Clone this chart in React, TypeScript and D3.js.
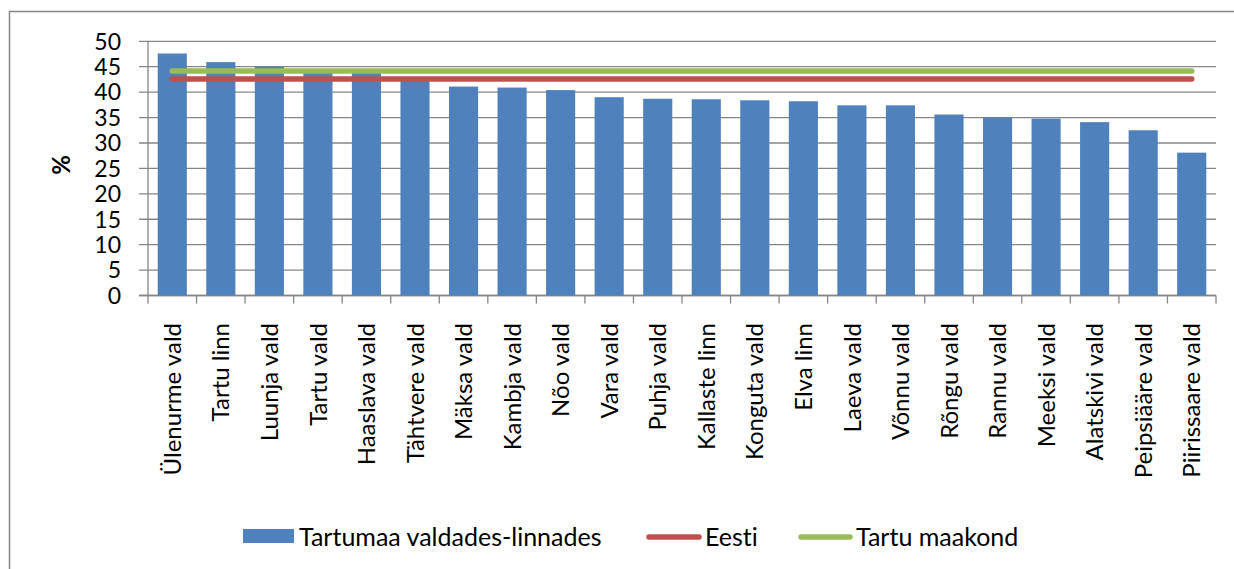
import React from "react";
import * as d3 from "d3";

const categories = [
  "Ülenurme vald", "Tartu linn", "Luunja vald", "Tartu vald", "Haaslava vald",
  "Tähtvere vald", "Mäksa vald", "Kambja vald", "Nõo vald", "Vara vald",
  "Puhja vald", "Kallaste linn", "Konguta vald", "Elva linn", "Laeva vald",
  "Võnnu vald", "Rõngu vald", "Rannu vald", "Meeksi vald", "Alatskivi vald",
  "Peipsiääre vald", "Piirissaare vald",
];
const values = [
  47.6, 45.9, 45.0, 44.3, 43.9, 42.5, 41.1, 40.9, 40.4, 39.0,
  38.7, 38.6, 38.4, 38.2, 37.4, 37.4, 35.6, 35.0, 34.8, 34.1,
  32.5, 28.1,
];
const eestiValue = 42.6;
const maakondValue = 44.15;
const yTicks = [0, 5, 10, 15, 20, 25, 30, 35, 40, 45, 50];
const seriesNames = ["Tartumaa valdades-linnades", "Eesti", "Tartu maakond"];

const W = 1234;
const H = 569;
const FONT = "Lato, 'Open Sans', sans-serif";
const BLUE = "#4F81BD";
const RED = "#C0504D";
const GREEN = "#9BBB59";
const GRID = "#868686";

export default function App() {
  const left = 148;
  const right = 1216;
  const top = 41.3;
  const bottom = 295.5;

  const x = d3.scaleBand<string>().domain(categories).range([left, right]).paddingInner(0.4).paddingOuter(0.2);
  const step = x.step();
  const y = d3.scaleLinear().domain([0, 50]).range([bottom, top]);

  const firstC = x(categories[0])! + x.bandwidth() / 2;
  const lastC = x(categories[categories.length - 1])! + x.bandwidth() / 2;
  const lineGen = d3.line<[number, number]>().x((d) => d[0]).y((d) => d[1]);

  const boundaries = d3.range(categories.length + 1).map((i) => left + i * step);

  return (
    <div style={{ position: "absolute", left: 0, top: 0 }}>
      <svg
        width={W}
        height={H}
        style={{ display: "block", fontFamily: FONT, fontVariantLigatures: "none", fontFeatureSettings: '"liga" 0, "clig" 0' }}
      >
        <rect x={0} y={0} width={W} height={H} fill="#fff" />
        {/* outer border */}
        <path d={`M9.5,${H + 5} V11.5 H${W + 5}`} fill="none" stroke={GRID} strokeWidth={1.5} />

        {/* gridlines */}
        {yTicks.map((t) => (
          <line key={"g" + t} x1={139} x2={right} y1={y(t)} y2={y(t)} stroke={GRID} strokeWidth={1.3} />
        ))}
        {/* y axis */}
        <line x1={left} x2={left} y1={top} y2={bottom + 0.5} stroke={GRID} strokeWidth={1.3} />
        {/* x axis */}
        <line x1={139} x2={right} y1={bottom} y2={bottom} stroke={GRID} strokeWidth={1.3} />
        {boundaries.map((bx, i) => (
          <line key={"bt" + i} x1={bx} x2={bx} y1={bottom} y2={bottom + 8} stroke={GRID} strokeWidth={1.3} />
        ))}

        {/* bars */}
        {categories.map((c, i) => (
          <rect
            key={c}
            x={x(c)!}
            y={y(values[i])}
            width={x.bandwidth()}
            height={y(0) - y(values[i])}
            fill={BLUE}
          />
        ))}

        {/* lines */}
        <path
          d={lineGen([[firstC, y(maakondValue)], [lastC, y(maakondValue)]])!}
          stroke={GREEN}
          strokeWidth={5.5}
          strokeLinecap="round"
          fill="none"
        />
        <path
          d={lineGen([[firstC, y(eestiValue)], [lastC, y(eestiValue)]])!}
          stroke={RED}
          strokeWidth={5.5}
          strokeLinecap="round"
          fill="none"
        />

        {/* y tick labels */}
        {yTicks.map((t) => (
          <text key={"yl" + t} x={121} y={y(t)} dy="0.36em" textAnchor="end" fontSize={23} fill="#000">
            {t}
          </text>
        ))}
        {/* y axis title */}
        <text
          transform={`translate(62,165) rotate(-90)`}
          textAnchor="middle"
          dy="0.35em"
          fontSize={24}
          fontWeight="bold"
          fill="#000"
        >
          %
        </text>

        {/* category labels */}
        {categories.map((c) => (
          <text
            key={"cl" + c}
            transform={`translate(${x(c)! + x.bandwidth() / 2},323) rotate(-90)`}
            textAnchor="end"
            dy="0.36em"
            fontSize={24}
            fill="#000"
          >
            {c}
          </text>
        ))}

        {/* legend */}
        <rect x={243} y={529} width={51} height={14} fill={BLUE} />
        <text x={299} y={537} dy="0.36em" fontSize={25} fill="#000">{seriesNames[0]}</text>
        <line x1={649} x2={699} y1={537} y2={537} stroke={RED} strokeWidth={5.5} strokeLinecap="round" />
        <text x={705} y={537} dy="0.36em" fontSize={25} fill="#000">{seriesNames[1]}</text>
        <line x1={801} x2={850} y1={537} y2={537} stroke={GREEN} strokeWidth={5.5} strokeLinecap="round" />
        <text x={856} y={537} dy="0.36em" fontSize={25} fill="#000">{seriesNames[2]}</text>
      </svg>
    </div>
  );
}
